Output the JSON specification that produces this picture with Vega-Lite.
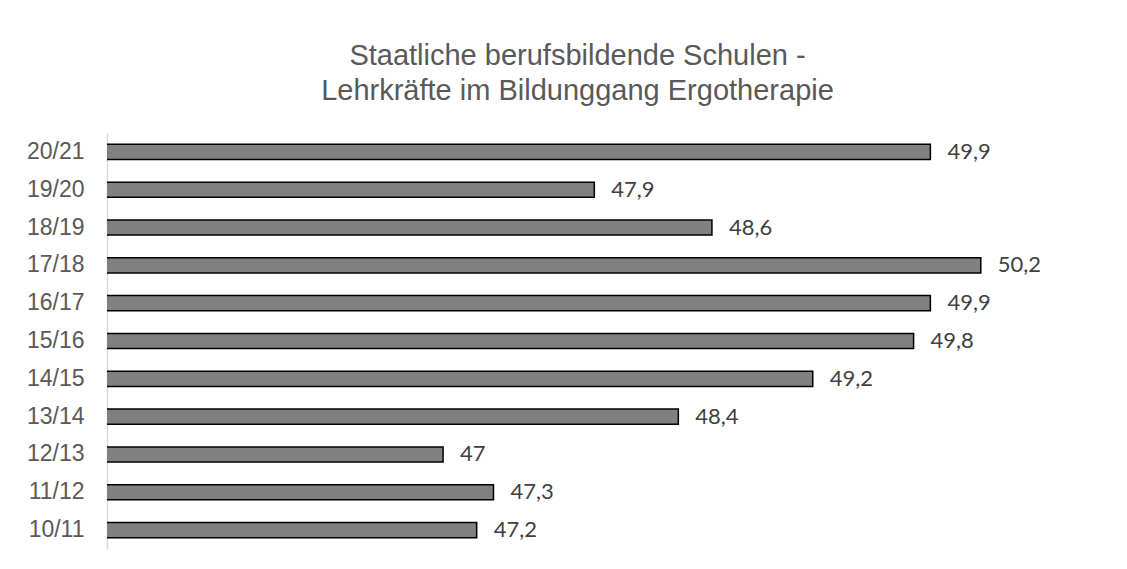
{
  "$schema": "https://vega.github.io/schema/vega-lite/v6.json",
  "autosize": {"type": "none"},
  "width": 941,
  "height": 416,
  "padding": {"left": 107, "top": 133, "right": 79, "bottom": 20},
  "background": "white",
  "config": {
    "locale": {"number": {"decimal": ",", "thousands": ".", "grouping": [3], "currency": ["", " €"]}},
    "view": {"stroke": null}
  },
  "title": {
    "text": ["Staatliche berufsbildende Schulen -", "Lehrkräfte im Bildunggang Ergotherapie"],
    "font": "Liberation Sans",
    "fontSize": 29,
    "fontWeight": "normal",
    "color": "#595959",
    "anchor": "middle",
    "lineHeight": 35,
    "offset": 27
  },
  "data": {
    "values": [
      {"jahr": "20/21", "wert": 49.9},
      {"jahr": "19/20", "wert": 47.9},
      {"jahr": "18/19", "wert": 48.6},
      {"jahr": "17/18", "wert": 50.2},
      {"jahr": "16/17", "wert": 49.9},
      {"jahr": "15/16", "wert": 49.8},
      {"jahr": "14/15", "wert": 49.2},
      {"jahr": "13/14", "wert": 48.4},
      {"jahr": "12/13", "wert": 47},
      {"jahr": "11/12", "wert": 47.3},
      {"jahr": "10/11", "wert": 47.2}
    ]
  },
  "encoding": {
    "y": {
      "field": "jahr",
      "type": "nominal",
      "sort": null,
      "scale": {"paddingInner": 0.6, "paddingOuter": 0.3},
      "axis": {
        "title": null,
        "ticks": false,
        "domainColor": "#d9d9d9",
        "domainWidth": 1.5,
        "labelFont": "Liberation Sans",
        "labelFontSize": 23,
        "labelColor": "#595959",
        "labelPadding": 23
      }
    },
    "x": {
      "field": "wert",
      "type": "quantitative",
      "scale": {"domain": [45, 50.6], "nice": false, "zero": false},
      "axis": null
    }
  },
  "layer": [
    {
      "mark": {"type": "bar", "color": "#808080", "stroke": "#000000", "strokeWidth": 1.5, "clip": true}
    },
    {
      "mark": {"type": "text", "align": "left", "baseline": "middle", "dx": 17, "font": "Lato", "fontSize": 22, "color": "#404040"},
      "encoding": {"text": {"field": "wert", "type": "quantitative", "format": "~r"}}
    }
  ]
}
